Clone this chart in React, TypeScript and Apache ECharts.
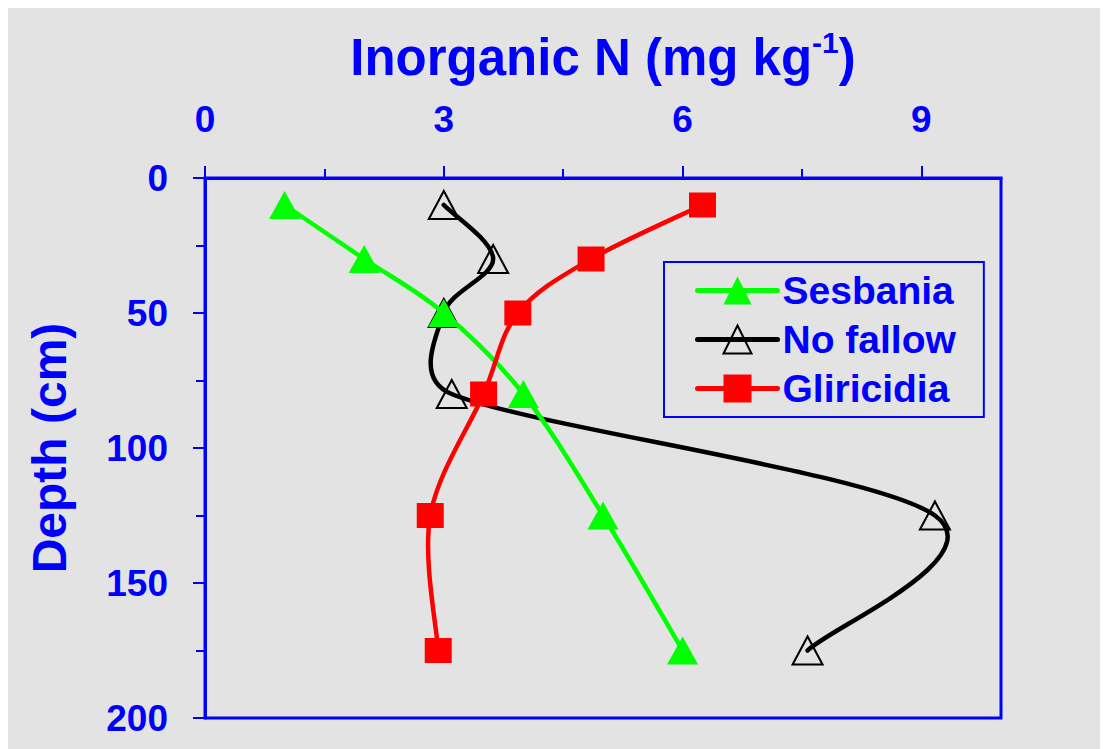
import React, { useEffect, useRef } from "react";
import * as echarts from "echarts";

const depths = [10, 30, 50, 80, 125, 175];
const sesbania = [1.0, 2.0, 3.0, 4.0, 5.0, 6.0];
const noFallow = [3.0, 3.62, 3.0, 3.1, 9.17, 7.57];
const gliricidia = [6.25, 4.85, 3.93, 3.5, 2.83, 2.93];
const xMajorTicks = [0, 3, 6, 9];
const xMinorTicks = [1.5, 4.5, 7.5];
const legendOrder = ["Sesbania", "No fallow", "Gliricidia"];

const BLUE = "#0000ff";
const BG = "#e3e3e3";
const FONT = '"Liberation Sans", Arial, sans-serif';
const TENSION = 1 / 6;

const pairs = (vals: number[]) => depths.map((d, i) => [vals[i], d]);

const dist = (a: number[], b: number[]) => Math.hypot(a[0] - b[0], a[1] - b[1]);

// Smooth curve (Excel-like spline) through points mapped by the chart's axes
function curveSeries(id: string, vals: number[], color: string, z: number) {
  const data = pairs(vals);
  return {
    id,
    name: id,
    type: "custom",
    z,
    silent: true,
    data: [0],
    renderItem: (params: any, api: any) => {
      const p = data.map((d) => api.coord(d));
      const n = p.length;
      // control offsets per point: [incoming, outgoing]
      const ctrl = p.map((pt, i) => {
        const prev = p[Math.max(i - 1, 0)];
        const next = p[Math.min(i + 1, n - 1)];
        const tx = (next[0] - prev[0]) * TENSION;
        const ty = (next[1] - prev[1]) * TENSION;
        const tl = Math.hypot(tx, ty) || 1;
        const inCap = i > 0 ? 0.5 * dist(pt, prev) : 0;
        const outCap = i < n - 1 ? 0.5 * dist(pt, next) : 0;
        const inL = Math.min(tl, inCap) / tl;
        const outL = Math.min(tl, outCap) / tl;
        return { inX: tx * inL, inY: ty * inL, outX: tx * outL, outY: ty * outL };
      });
      let path = `M${p[0][0]},${p[0][1]}`;
      for (let i = 0; i < n - 1; i++) {
        const a = p[i];
        const b = p[i + 1];
        const c1x = a[0] + ctrl[i].outX;
        const c1y = a[1] + ctrl[i].outY;
        const c2x = b[0] - ctrl[i + 1].inX;
        const c2y = b[1] - ctrl[i + 1].inY;
        path += ` C${c1x},${c1y} ${c2x},${c2y} ${b[0]},${b[1]}`;
      }
      return {
        type: "path",
        shape: { pathData: path },
        style: { fill: "none", stroke: color, lineWidth: 4.5, lineCap: "round", lineJoin: "round" },
      };
    },
  };
}

function markerSeries(name: string, vals: number[], color: string, symbol: string, size: number[], itemStyle: any, z: number) {
  return {
    name,
    type: "line",
    z,
    data: pairs(vals),
    symbol,
    symbolSize: size,
    lineStyle: { color, width: 5, opacity: 0 },
    itemStyle,
    emphasis: { disabled: true },
  };
}

export default function App() {
  const ref = useRef<HTMLDivElement>(null);
  useEffect(() => {
    if (!ref.current) return;
    const chart = echarts.init(ref.current, null, { renderer: "svg" });
    const option: any = {
      animation: false,
      backgroundColor: BG,
      textStyle: { fontFamily: FONT },
      grid: {
        left: 197,
        top: 170,
        right: 107,
        bottom: 31,
        show: true,
        borderColor: BLUE,
        borderWidth: 3,
        backgroundColor: "transparent",
      },
      legend: {
        data: legendOrder,
        left: 656,
        top: 254,
        orient: "vertical",
        selectedMode: false,
        itemWidth: 80,
        itemHeight: 35,
        itemGap: 10,
        padding: [9, 28, 9, 31],
        borderColor: BLUE,
        borderWidth: 2,
        lineStyle: { width: 5, opacity: 1, cap: "round" },
        textStyle: { color: BLUE, fontSize: 39, fontWeight: "bold", fontFamily: FONT },
      },
      xAxis: [
        {
          type: "value",
          position: "top",
          min: 0,
          max: 10,
          interval: 3,
          name: "{t|Inorganic N (mg kg}{s|-1}{t|)}",
          nameLocation: "middle",
          nameGap: 91,
          nameTextStyle: {
            rich: {
              t: { fontSize: 51, fontWeight: "bold", color: BLUE, fontFamily: FONT, lineHeight: 60 },
              s: { fontSize: 30, fontWeight: "bold", color: BLUE, fontFamily: FONT, lineHeight: 30, verticalAlign: "top" },
            },
          },
          axisLine: { show: true, onZero: false, lineStyle: { color: BLUE, width: 3 } },
          axisTick: { show: true, length: 12, customValues: xMajorTicks, lineStyle: { color: BLUE, width: 2 } },
          axisLabel: {
            show: true,
            customValues: xMajorTicks,
            margin: 40,
            color: BLUE,
            fontSize: 37,
            fontWeight: "bold",
            fontFamily: FONT,
          },
          splitLine: { show: false },
        },
        {
          type: "value",
          position: "top",
          min: 0,
          max: 10,
          axisLine: { show: false, onZero: false },
          axisTick: { show: true, length: 9, customValues: xMinorTicks, lineStyle: { color: BLUE, width: 2 } },
          axisLabel: { show: false },
          splitLine: { show: false },
        },
      ],
      yAxis: {
        type: "value",
        inverse: true,
        min: 0,
        max: 200,
        interval: 50,
        name: "Depth (cm)",
        nameLocation: "middle",
        nameGap: 128,
        nameTextStyle: { fontSize: 48, fontWeight: "bold", color: BLUE, fontFamily: FONT, lineHeight: 56 },
        axisLine: { show: true, onZero: false, lineStyle: { color: BLUE, width: 3 } },
        axisTick: { show: true, length: 12, lineStyle: { color: BLUE, width: 2 } },
        minorTick: { show: true, splitNumber: 2, length: 9, lineStyle: { color: BLUE, width: 2 } },
        axisLabel: { margin: 37, color: BLUE, fontSize: 37, fontWeight: "bold", fontFamily: FONT },
        splitLine: { show: false },
        minorSplitLine: { show: false },
      },
      series: [
        curveSeries("noFallowCurve", noFallow, "#000000", 2),
        markerSeries("No fallow", noFallow, "#000000", "triangle", [30, 28],
          { color: "rgba(0,0,0,0)", borderColor: "#000000", borderWidth: 2 }, 3),
        curveSeries("sesbaniaCurve", sesbania, "#00ff00", 4),
        markerSeries("Sesbania", sesbania, "#00ff00", "triangle", [31, 28], { color: "#00ff00" }, 5),
        curveSeries("gliricidiaCurve", gliricidia, "#ff0000", 6),
        markerSeries("Gliricidia", gliricidia, "#ff0000", "rect", [27, 25], { color: "#ff0000" }, 7),
      ],
    };
    chart.setOption(option);
    return () => chart.dispose();
  }, []);
  return <div ref={ref} style={{ width: 1100, height: 741, background: BG }} />;
}
